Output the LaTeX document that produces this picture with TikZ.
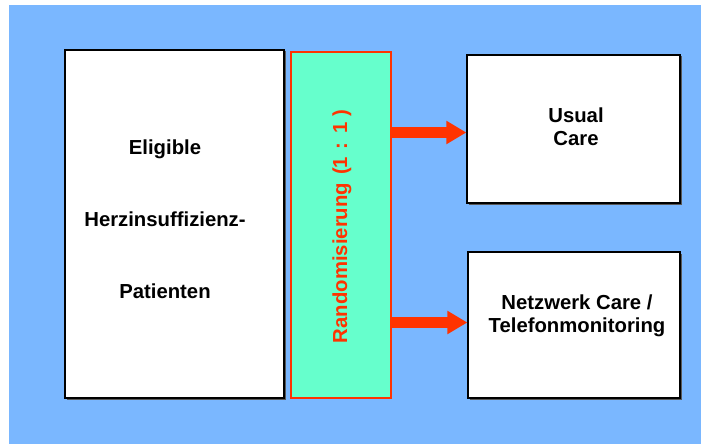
\documentclass[tikz,border=0pt]{standalone}
\usepackage{fontspec}
\setmainfont{Liberation Sans}
\usetikzlibrary{arrows.meta,shadows}
\definecolor{bgblue}{RGB}{122,183,255}
\definecolor{mint}{RGB}{102,255,204}
\definecolor{arrred}{RGB}{255,51,0}
\begin{document}
\begin{tikzpicture}[x=1pt,y=-1pt,
  whitebox/.style={draw=black,line width=1.2pt,fill=white,inner sep=0pt,
    drop shadow={shadow xshift=1.5pt,shadow yshift=-1.5pt,fill=black!65,opacity=1}},
  randbox/.style={draw=arrred,line width=2.4pt,fill=mint,inner sep=0pt},
  boxtext/.style={font=\fontsize{20.3}{23}\selectfont\bfseries,align=center,inner sep=0pt},
  redarrow/.style={draw=arrred,line width=11pt,-{Triangle[length=20pt,width=22pt]}}]
\useasboundingbox (0,0) rectangle (701,444);
\fill[bgblue] (9,5) rectangle (701,444);
% boxes
\node[whitebox,minimum width=219pt,minimum height=348pt] (pat) at (174.5,224) {};
\node[randbox,minimum width=100pt,minimum height=346pt] (rand) at (341,225) {};
\node[whitebox,minimum width=213pt,minimum height=148pt] (usual) at (573.5,129) {};
\node[whitebox,minimum width=212pt,minimum height=146pt] (netz) at (574,325) {};
% texts
\node[boxtext] (pattext) at (165,219) {Eligible\\[49pt]Herzinsuffizienz-\\[49pt]Patienten};
\node[boxtext,text=arrred,rotate=90] (randtext) at (342,226.5) {Randomisierung\hspace{8pt}(1\hspace{7pt}:\hspace{10pt}1\hspace{5pt})};
\node[boxtext] (usualtext) at (576,127) {Usual\\Care};
\node[boxtext] (netztext) at (577,316) {Netzwerk Care /\\Telefonmonitoring};
% arrows
\draw[redarrow] (rand.east |- 0,132.5) -- (usual.west |- 0,132.5);
\draw[redarrow] (rand.east |- 0,322.5) -- (netz.west |- 0,322.5);
\end{tikzpicture}
\end{document}
